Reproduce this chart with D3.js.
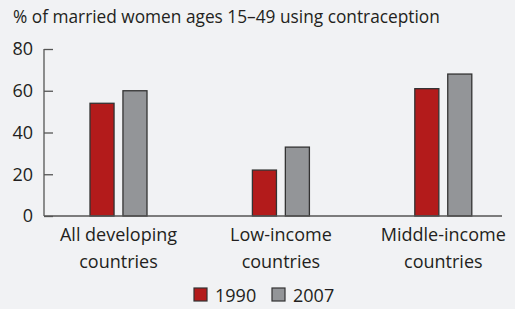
<!DOCTYPE html>
<html>
<head>
<meta charset="utf-8">
<script src="https://cdn.jsdelivr.net/npm/d3@7"></script>
<style>
  body { margin: 0; background: #f1f2f4; }
  svg { display: block; }
  text { font-family: "Open Sans", "Noto Sans", sans-serif; fill: #231f20; }
</style>
</head>
<body>
<div id="chart"></div>
<script>
// data
var categories = ["All developing countries", "Low-income countries", "Middle-income countries"];
var categoryLines = [["All developing", "countries"], ["Low-income", "countries"], ["Middle-income", "countries"]];
var years = ["1990", "2007"];
var values1990 = [54, 22, 61];
var values2007 = [60, 33, 68];
var yTicks = [0, 20, 40, 60, 80];
var title = "% of married women ages 15\u201349 using contraception";

var colors = ["#b31b1b", "#939598"];

var width = 515, height = 309;
var axisX = 44, baseY = 216, topY = 49;

var svg = d3.select("#chart").append("svg")
  .attr("width", width)
  .attr("height", height);

var y = d3.scaleLinear().domain([0, 80]).range([baseY, topY]);

var x0 = d3.scalePoint()
  .domain(categories)
  .range([118.5, 443.3]);

var x1 = d3.scaleBand()
  .domain(years)
  .range([-28.5, 28.5])
  .paddingInner(0.27);

// title
svg.append("text")
  .attr("x", 13)
  .attr("y", 23)
  .style("font-size", "17.3px")
  .text(title);

// y axis
var yAxis = d3.axisRight(y).tickValues(yTicks).tickSize(9).tickFormat(d3.format("d"));
var gy = svg.append("g")
  .attr("transform", "translate(" + axisX + ",0)")
  .call(yAxis);
gy.select(".domain").remove();
gy.selectAll(".tick line").attr("stroke", "#555").attr("stroke-width", 1.3);
gy.selectAll(".tick text")
  .attr("x", -11)
  .attr("text-anchor", "end")
  .attr("fill", "#231f20")
  .style("font-size", "18px");

svg.append("line")
  .attr("x1", axisX).attr("x2", axisX)
  .attr("y1", topY).attr("y2", baseY)
  .attr("stroke", "#555").attr("stroke-width", 1.3);

// bars
var groups = svg.selectAll(".group")
  .data(categories)
  .enter().append("g")
  .attr("class", "group")
  .attr("transform", function(d) { return "translate(" + x0(d) + ",0)"; });

groups.selectAll("rect")
  .data(function(d, i) { return [values1990[i], values2007[i]].map(function(v, j) { return { year: years[j], value: v }; }); })
  .enter().append("rect")
  .attr("x", function(d) { return x1(d.year); })
  .attr("width", x1.bandwidth())
  .attr("y", function(d) { return y(d.value); })
  .attr("height", function(d) { return baseY - y(d.value); })
  .attr("fill", function(d, i) { return colors[i]; })
  .attr("stroke", "#333")
  .attr("stroke-width", 1.3);

// baseline
svg.append("line")
  .attr("x1", axisX).attr("x2", 502)
  .attr("y1", baseY).attr("y2", baseY)
  .attr("stroke", "#555").attr("stroke-width", 1.5);

// category labels
var labels = svg.selectAll(".cat")
  .data(categories)
  .enter().append("text")
  .attr("class", "cat")
  .attr("text-anchor", "middle")
  .style("font-size", "18px")
  .attr("transform", function(d) { return "translate(" + x0(d) + ",241)"; });

labels.selectAll("tspan")
  .data(function(d, i) { return categoryLines[i]; })
  .enter().append("tspan")
  .attr("x", 0)
  .attr("dy", function(d, i) { return i === 0 ? 0 : 27; })
  .text(function(d) { return d; });

// legend
var legendX = [194, 272];
var legend = svg.selectAll(".legend")
  .data(years)
  .enter().append("g")
  .attr("class", "legend")
  .attr("transform", function(d, i) { return "translate(" + legendX[i] + ",288)"; });

legend.append("rect")
  .attr("width", 13)
  .attr("height", 13)
  .attr("fill", function(d, i) { return colors[i]; })
  .attr("stroke", "#333")
  .attr("stroke-width", 1.2);

legend.append("text")
  .attr("x", 21)
  .attr("y", 14)
  .style("font-size", "18px")
  .text(function(d) { return d; });
</script>
</body>
</html>
